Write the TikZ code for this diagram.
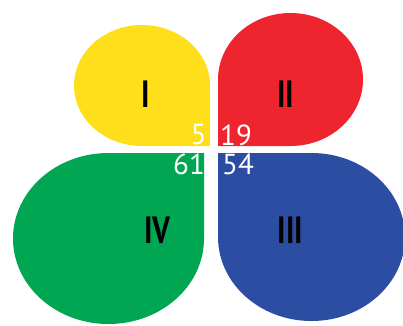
\documentclass[tikz,border=0pt]{standalone}
\usepackage{fontspec}
\setmainfont{PT Sans}
\definecolor{leafyellow}{HTML}{FFDE1C}
\definecolor{leafred}{HTML}{EE242F}
\definecolor{leafgreen}{HTML}{00A651}
\definecolor{leafblue}{HTML}{2B4EA2}
\newcommand{\narrow}[1]{\scalebox{0.78}[1]{#1}}
\tikzset{
  roman/.style={inner sep=0pt, font=\fontsize{38}{38}\selectfont\bfseries},
  count/.style={inner sep=0pt, text=white, font=\fontsize{29}{29}\selectfont}
}

\begin{document}
\begin{tikzpicture}[x=1pt,y=1pt]
\clip (0,0) rectangle (403,-325);
\coordinate (cI) at (210,-146); \coordinate (cII) at (218,-146); \coordinate (cIII) at (218,-153); \coordinate (cIV) at (204,-153);
\fill[leafyellow] (cI) -- (210,-85.5) arc[start angle=0, end angle=270, x radius=68, y radius=60.5] -- cycle;
\fill[leafred] (cII) -- (290.5,-146) arc[start angle=-90, end angle=180, x radius=72.5, y radius=66.5] -- cycle;
\fill[leafblue] (cIII) -- (218,-237) arc[start angle=180, end angle=450, x radius=93.5, y radius=84] -- cycle;
\fill[leafgreen] (cIV) -- (108.5,-153) arc[start angle=90, end angle=360, x radius=95.5, y radius=85.5] -- cycle;
\node[roman] (I) at (146,-94) {\narrow{I}};
\node[roman] (II) at (285.5,-94) {\narrow{II}};
\node[roman] (III) at (290.5,-230) {\narrow{III}};
\node[roman] (IV) at (157.5,-230) {\narrow{IV}};
\node[count] (nI) at (198.5,-135) {5};
\node[count] (nII) at (236,-135) {19};
\node[count] (nIV) at (189,-164.5) {61};
\node[count] (nIII) at (238,-164.5) {54};
\end{tikzpicture}
\end{document}
